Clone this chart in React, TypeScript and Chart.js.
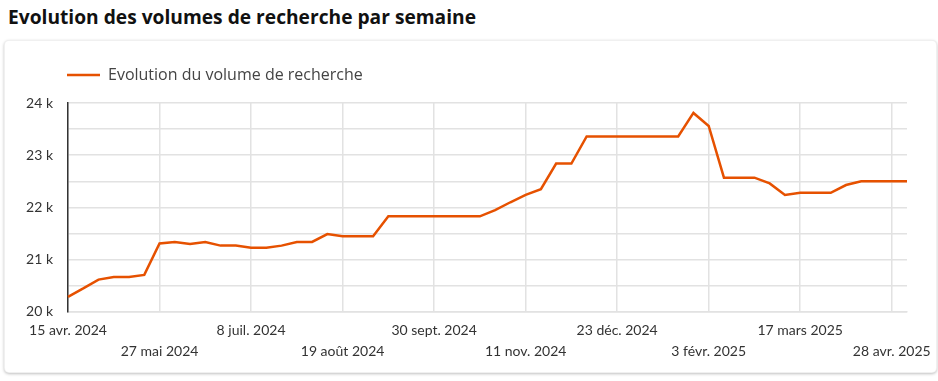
import React, { useEffect, useRef } from "react";
import { Chart, registerables } from "chart.js";

Chart.register(...registerables);

const WEEKS: string[] = [
  "15 avr. 2024", "22 avr. 2024", "29 avr. 2024", "6 mai 2024", "13 mai 2024", "20 mai 2024",
  "27 mai 2024", "3 juin 2024", "10 juin 2024", "17 juin 2024", "24 juin 2024", "1 juil. 2024",
  "8 juil. 2024", "15 juil. 2024", "22 juil. 2024", "29 juil. 2024", "5 août 2024", "12 août 2024",
  "19 août 2024", "26 août 2024", "2 sept. 2024", "9 sept. 2024", "16 sept. 2024", "23 sept. 2024",
  "30 sept. 2024", "7 oct. 2024", "14 oct. 2024", "21 oct. 2024", "28 oct. 2024", "4 nov. 2024",
  "11 nov. 2024", "18 nov. 2024", "25 nov. 2024", "2 déc. 2024", "9 déc. 2024", "16 déc. 2024",
  "23 déc. 2024", "30 déc. 2024", "6 janv. 2025", "13 janv. 2025", "20 janv. 2025", "27 janv. 2025",
  "3 févr. 2025", "10 févr. 2025", "17 févr. 2025", "24 févr. 2025", "3 mars 2025", "10 mars 2025",
  "17 mars 2025", "24 mars 2025", "31 mars 2025", "7 avr. 2025", "14 avr. 2025", "21 avr. 2025",
  "28 avr. 2025", "5 mai 2025",
];

const VOLUMES: number[] = [
  20290, 20450, 20620, 20670, 20670, 20710,
  21310, 21340, 21300, 21340, 21270, 21270,
  21230, 21230, 21270, 21340, 21340, 21490,
  21450, 21450, 21450, 21830, 21830, 21830,
  21830, 21830, 21830, 21830, 21950, 22100,
  22240, 22350, 22840, 22840, 23360, 23360,
  23360, 23360, 23360, 23360, 23360, 23810,
  23560, 22570, 22570, 22570, 22460, 22240,
  22280, 22280, 22280, 22430, 22500, 22500,
  22500, 22500,
];

const TICK_EVERY = 6;
const SERIES_LABEL = "Evolution du volume de recherche";
const TITLE = "Evolution des volumes de recherche par semaine";
const Y_MIN = 20000;
const Y_MAX = 24000;
const Y_STEP = 500;

const ORANGE = "#e65100";
const GRID = "#e2e2e2";
const FONT = "Lato";
const FONT_WIDE = "'Open Sans'";

export default function App() {
  const ref = useRef<HTMLCanvasElement | null>(null);

  useEffect(() => {
    if (!ref.current) return;
    const legendTweak = {
      id: "legendTweak",
      beforeInit(chart: any) {
        const lg = chart.legend;
        if (lg && !lg.__patched) {
          const orig = lg.fit;
          lg.fit = function () {
            orig.call(this);
            this.height += 10;
          };
          lg.__patched = true;
        }
      },
      beforeDraw(chart: any) {
        if (chart.legend && chart.chartArea) {
          chart.legend.left = chart.chartArea.left - 11;
        }
      },
    };
    const chart = new Chart(ref.current, {
      type: "line",
      data: {
        labels: WEEKS,
        datasets: [
          {
            label: SERIES_LABEL,
            data: VOLUMES,
            borderColor: ORANGE,
            backgroundColor: ORANGE,
            borderWidth: 2.5,
            pointRadius: 0,
            tension: 0,
            fill: false,
          },
        ],
      },
      options: {
        animation: false,
        responsive: true,
        maintainAspectRatio: false,
        layout: { padding: { left: 0, right: 25, top: 0, bottom: 0 } },
        plugins: {
          legend: {
            display: true,
            position: "top",
            align: "start",
            labels: {
              usePointStyle: true,
              pointStyle: "line",
              pointStyleWidth: 33,
              color: "#444",
              padding: 10,
              font: { family: FONT_WIDE, size: 16 },
            },
          },
          tooltip: { enabled: false },
        },
        scales: {
          x: {
            type: "category",
            offset: false,
            grid: {
              display: true,
              drawTicks: false,
              color: (ctx: any) => (ctx.index % TICK_EVERY === 0 ? GRID : "rgba(0,0,0,0)"),
              lineWidth: 1.5,
            },
            border: { display: true, color: GRID, width: 1.5 },
            ticks: {
              autoSkip: false,
              maxRotation: 0,
              minRotation: 0,
              padding: 9,
              color: "#333",
              font: { family: FONT, size: 14, lineHeight: 1.43 },
              callback: (_v: any, i: number) => {
                if (i % TICK_EVERY !== 0) return "";
                const lab = WEEKS[i];
                return (i / TICK_EVERY) % 2 === 0 ? lab : ["", lab];
              },
            },
          },
          y: {
            min: Y_MIN,
            max: Y_MAX,
            grid: { display: true, drawTicks: false, color: GRID, lineWidth: 1.5 },
            border: { display: true, color: "#333", width: 1.5 },
            afterFit: (scale: any) => {
              scale.width = 56;
            },
            ticks: {
              stepSize: Y_STEP,
              padding: 15,
              color: "#333",
              font: { family: FONT, size: 14 },
              callback: (v: any) => (Number(v) % 1000 === 0 ? `${Number(v) / 1000} k` : ""),
            },
          },
        },
      },
      plugins: [legendTweak],
    } as any);
    return () => chart.destroy();
  }, []);

  return (
    <div style={{ width: 938, height: 381, position: "fixed", left: 0, top: 0, background: "#fff" }}>
      <div
        style={{
          position: "absolute",
          left: 8,
          top: 3,
          fontFamily: FONT_WIDE,
          fontWeight: 700,
          fontSize: 19.2,
          color: "#111",
          whiteSpace: "nowrap",
          lineHeight: "28px",
          margin: 0,
        }}
      >
        {TITLE}
      </div>
      <div
        style={{
          position: "absolute",
          left: 4,
          top: 40,
          width: 933,
          height: 333,
          boxSizing: "border-box",
          borderRadius: 5,
          border: "1px solid rgba(0,0,0,0.06)",
          boxShadow: "0 1px 3px rgba(0,0,0,0.25)",
          background: "#fff",
        }}
      />
      <div style={{ position: "absolute", left: 12, top: 57, width: 920, height: 313 }}>
        <canvas ref={ref} />
      </div>
    </div>
  );
}
